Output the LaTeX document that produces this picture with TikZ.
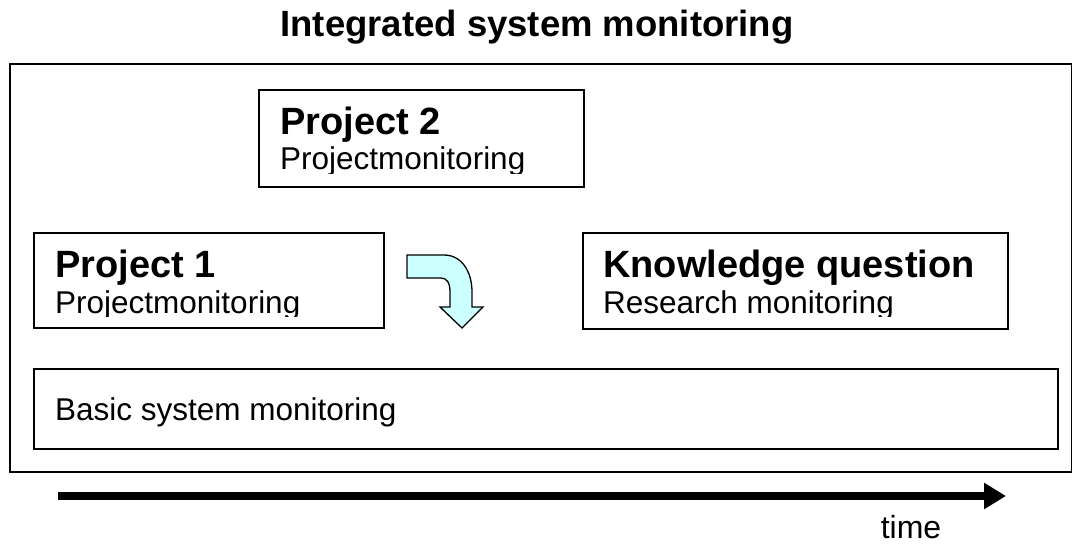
\documentclass[tikz,border=0pt]{standalone}
\usepackage{fontspec}
\setmainfont{Liberation Sans}
\usetikzlibrary{arrows.meta}
\definecolor{lightcyan}{HTML}{CCFFFF}
\begin{document}
\begin{tikzpicture}[x=1bp,y=-1bp,
  box/.style={draw=black, line width=1.6bp, fill=white, inner sep=0pt, anchor=north west},
  headtxt/.style={anchor=base west, inner sep=0pt, font=\fontsize{38bp}{40bp}\selectfont\bfseries},
  subtxt/.style={anchor=base west, inner sep=0pt, font=\fontsize{31.5bp}{34bp}\selectfont},
]
\useasboundingbox (0,0) rectangle (1072,547);
% title
\node[anchor=base, inner sep=0pt, font=\fontsize{36.5bp}{40bp}\selectfont\bfseries] (title) at (537,37) {Integrated system monitoring};
% outer frame
\node[box, line width=1.8bp, minimum width=1062bp, minimum height=408bp] (outer) at (9,63) {};
% project 2
\node[box, minimum width=325bp, minimum height=97bp] (p2) at (258,89) {};
\begin{scope}
\clip (258,89) rectangle (583,173.5);
\node[headtxt] (p2a) at (280,135) {Project 2};
\node[subtxt] (p2b) at (280,170) {Projectmonitoring};
\end{scope}
% project 1
\node[box, minimum width=350bp, minimum height=95bp] (p1) at (33,232) {};
\begin{scope}
\clip (33,232) rectangle (383,317);
\node[headtxt] (p1a) at (55,278) {Project 1};
\node[subtxt] (p1b) at (55,313.5) {Projectmonitoring};
\end{scope}
% knowledge question
\node[box, minimum width=425bp, minimum height=96bp] (kq) at (582,232) {};
\begin{scope}
\clip (582,232) rectangle (1007,317);
\node[headtxt] (kqa) at (603,278) {Knowledge question};
\node[subtxt] (kqb) at (603,313.5) {Research monitoring};
\end{scope}
% basic system monitoring
\node[box, minimum width=1024bp, minimum height=80bp] (basic) at (33,368) {};
\node[subtxt, anchor=base west] (basictxt) at (55,420) {Basic system monitoring};
% bent arrow
\filldraw[fill=lightcyan, draw=black, line width=1.3bp, line join=miter]
  (407,255) -- (444,255)
  .. controls (462,255) and (472,272) .. (472,292)
  -- (472,307) -- (483,307) -- (462,328) -- (440,307) -- (450,307)
  -- (450,292) .. controls (450,283) and (447,278) .. (441,278)
  -- (407,278) -- cycle;
% time arrow
\coordinate (ts) at (58,496);
\coordinate (te) at (1006,496);
\draw[line width=8bp, -{Triangle[length=22bp,width=25bp]}] (ts) -- (te);
\node[anchor=base, inner sep=0pt, font=\fontsize{32bp}{34bp}\selectfont] (time) at (911,538) {time};
\end{tikzpicture}
\end{document}
